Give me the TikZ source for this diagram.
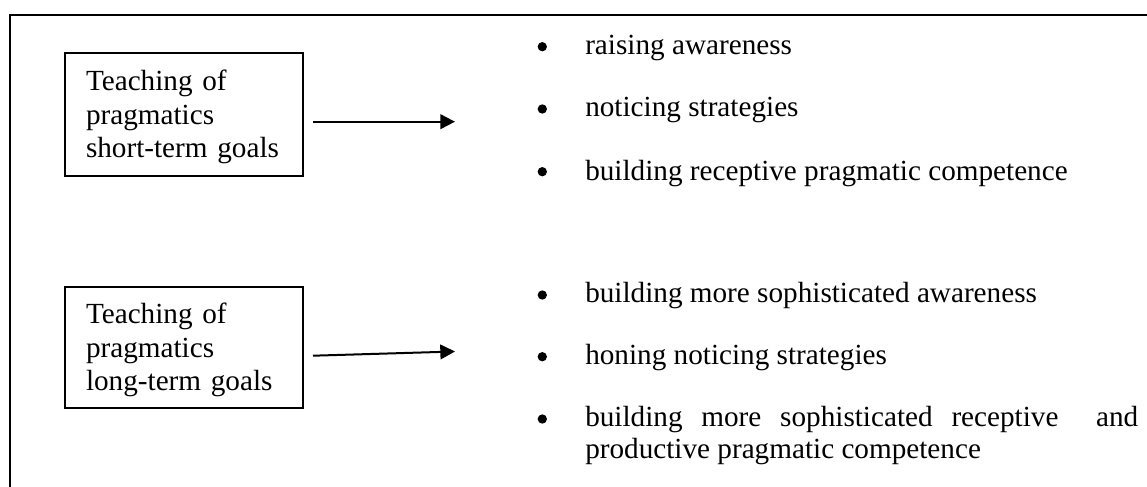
\documentclass[tikz,border=0pt]{standalone}
\usepackage{fontspec}
\setmainfont{Liberation Serif}
\usetikzlibrary{arrows.meta}
\begin{document}
\begin{tikzpicture}[x=0.75pt,y=-0.75pt,
  txt/.style={font=\fontsize{21.9pt}{25.1pt}\selectfont},
  goalbox/.style={txt, draw, line width=0.9pt, inner sep=0pt, minimum width=178.5pt, text width=147pt, align=left},
  item/.style={txt, anchor=base west, inner sep=0pt},
  bul/.style={circle, fill=black, inner sep=0pt, minimum size=7pt},
  arr/.style={line width=1.5pt, -{Triangle[length=11pt,width=11pt]}},
  frame/.style={line width=1.6pt}]
\useasboundingbox (0,0) rectangle (1147,486);
% outer frame (only top and left edges visible)
\draw[frame] (1152,15) -- (10,15) -- (10,492);

% goal boxes
\node[goalbox, minimum height=92.25pt] (b1) at (184,114.5) {\rule{0pt}{19.4pt}Teaching of\\pragmatics\\short-term goals};
\node[goalbox, minimum height=90.75pt] (b2) at (184,347.5) {\rule{0pt}{19.6pt}Teaching of\\pragmatics\\long-term goals};

% arrows
\coordinate (a1s) at (313,121.7);
\coordinate (a1e) at (455,121.7);
\coordinate (a2s) at (313,355.7);
\coordinate (a2e) at (455,351.5);
\draw[arr] (a1s) -- (a1e);
\draw[arr] (a2s) -- (a2e);

% short-term items
\node[bul] (d1) at (542.3,46.7) {};
\node[item] (i1) at (585,54) {raising awareness};
\node[bul] (d2) at (542.3,109) {};
\node[item] (i2) at (585,116.7) {noticing strategies};
\node[bul] (d3) at (542.3,171.7) {};
\node[item] (i3) at (585,180) {building receptive pragmatic competence};

% long-term items
\node[bul] (d4) at (542.3,295) {};
\node[item] (i4) at (585,302.7) {building more sophisticated awareness};
\node[bul] (d5) at (542.3,356.7) {};
\node[item] (i5) at (585,364) {honing noticing strategies};
\node[bul] (d6) at (542.3,419) {};
\node[item, align=left, font=\fontsize{21.9pt}{23.6pt}\selectfont] (i6) at (585,458)
  {\hbox to 414.75pt{building\hfill more\hfill sophisticated\hfill receptive\hfill\hfill and}\\productive pragmatic competence};
\end{tikzpicture}
\end{document}
